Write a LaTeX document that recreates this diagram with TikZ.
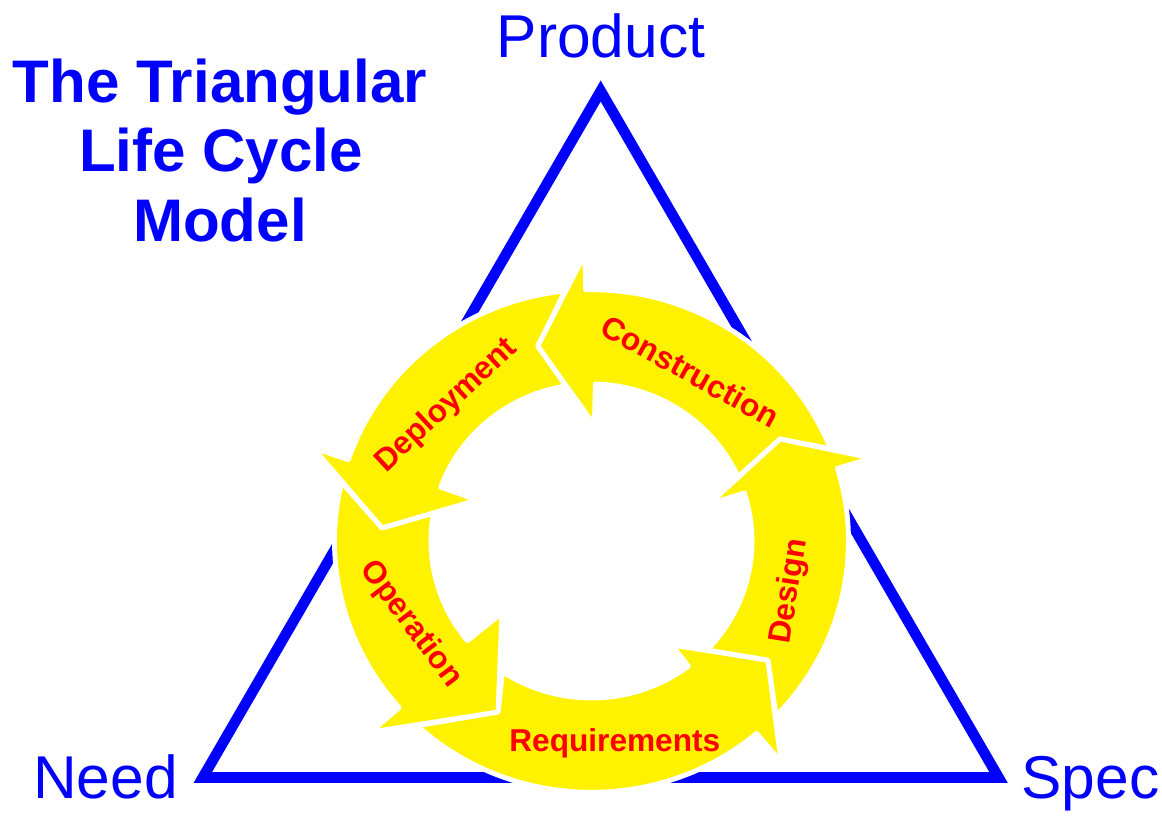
\documentclass[tikz,border=0pt]{standalone}
\usepackage{fontspec}
\setmainfont{Liberation Sans}
\usepackage{tikz}

\begin{document}
\begin{tikzpicture}[
    side/.style={draw=blue, line width=3pt, line join=miter},
    piece/.style={fill=yellow, draw=white, line width=1.4pt, line join=round},
    stage/.style={text=red, font=\fontsize{9}{10}\selectfont\bfseries, inner sep=0pt},
    corner/.style={text=blue, font=\fontsize{17.2}{20}\selectfont, inner sep=0pt, anchor=base},
    heading/.style={text=blue, font=\fontsize{17.1}{20}\selectfont\bfseries, inner sep=0pt, anchor=base}]
    \useasboundingbox (0,0) rectangle (11.62,8.16);

    % Triangle corners
    \coordinate (P) at (6.007,7.25);
    \coordinate (N) at (2.028,0.385);
    \coordinate (S) at (9.986,0.385);
    \draw [side] (P) -- (N) -- (S) -- cycle;

    % Corner labels
    \node [corner] (product) at (6.01,7.58) {Product};
    \node [corner] (need) at (1.055,0.17) {Need};
    \node [corner] (spec) at (10.905,0.17) {Spec};

    % Title
    \node [heading] (title1) at (2.20,7.14) {The Triangular};
    \node [heading] (title2) at (2.21,6.44) {Life Cycle};
    \node [heading] (title3) at (2.20,5.74) {Model};

    % Cycle of arrows
    \begin{scope}[shift={(5.915,2.75)}, yscale=0.978]
        % Construction
        \filldraw [piece] (21.55:2.57) arc [start angle=21.55, end angle=91.3, radius=2.57]
            -- (91.3:2.936) -- (105.1:2.065) -- (88.6:1.186) -- (88.6:1.605)
            arc [start angle=88.6, end angle=24.04, radius=1.605] -- (28.95:2.154) -- cycle;
        % Deployment
        \filldraw [piece] (95.9:2.57) arc [start angle=95.9, end angle=161.1, radius=2.57]
            -- (161.1:2.943) -- (176.4:2.099) -- (159.9:1.219) -- (159.9:1.605)
            arc [start angle=159.9, end angle=99.2, radius=1.605] -- (105.1:2.065) -- cycle;
        % Operation
        \filldraw [piece] (166.5:2.57) arc [start angle=166.5, end angle=221.5, radius=2.57]
            -- (221.5:2.948) -- (241.9:1.983) -- (219.4:1.159) -- (219.4:1.605)
            arc [start angle=219.4, end angle=169.8, radius=1.605] -- (176.4:2.099) -- cycle;
        % Requirements
        \filldraw [piece] (227.3:2.57) arc [start angle=227.3, end angle=310, radius=2.57]
            -- (310:2.949) -- (325.4:2.144) -- (307.1:1.334) -- (307.1:1.605)
            arc [start angle=307.1, end angle=236.3, radius=1.605] -- (241.9:1.983) -- cycle;
        % Design
        \filldraw [piece] (315.9:2.57) arc [start angle=315.9, end angle=376.8, radius=2.57]
            -- (16.8:2.931) -- (28.95:2.154) -- (17.8:1.234) -- (17.8:1.605)
            arc [start angle=377.8, end angle=316.0, radius=1.605] -- (325.4:2.144) -- cycle;
    \end{scope}

    % Stage labels
    \node [stage, rotate=-29] (construction) at (6.904,4.448) {Construction};
    \node [stage, rotate=43] (deployment) at (4.467,4.103) {Deployment};
    \node [stage, rotate=-53] (operation) at (4.108,1.918) {Operation};
    \node [stage, anchor=base] (requirements) at (6.148,0.65) {Requirements};
    \node [stage, rotate=81] (design) at (7.899,2.246) {Design};
\end{tikzpicture}
\end{document}
